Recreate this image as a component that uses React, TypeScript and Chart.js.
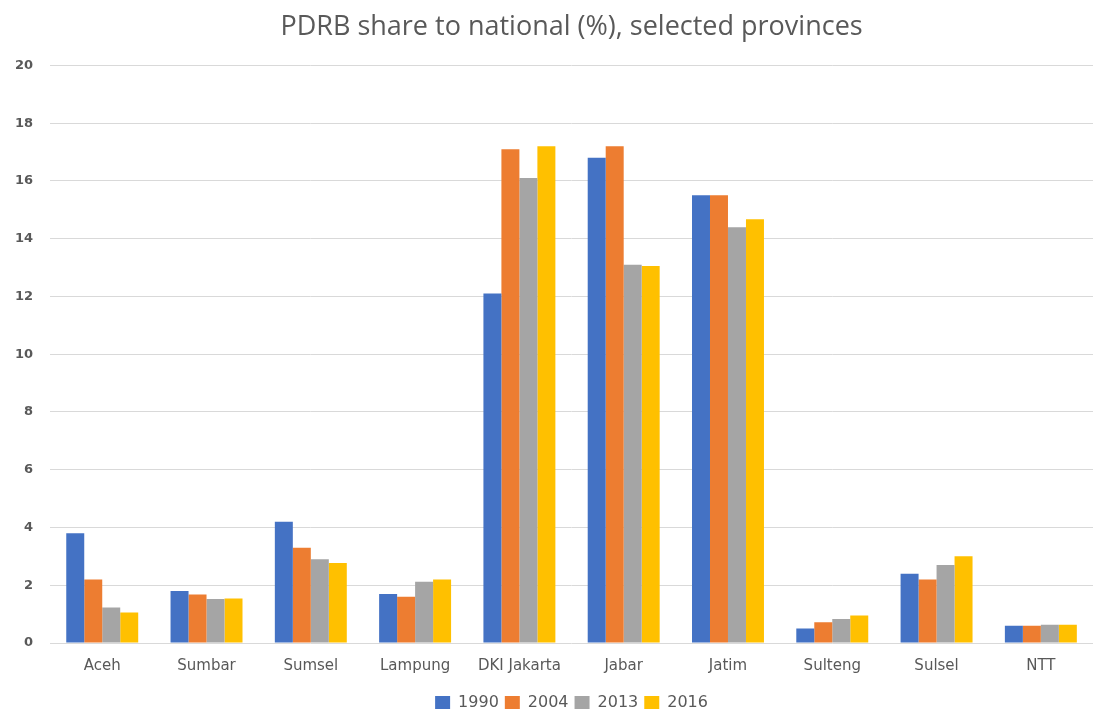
import React, { useEffect, useRef } from "react";
import { Chart, registerables } from "chart.js";

Chart.register(...registerables);

const categories = ["Aceh", "Sumbar", "Sumsel", "Lampung", "DKI Jakarta", "Jabar", "Jatim", "Sulteng", "Sulsel", "NTT"];
const series1990 = [3.8, 1.8, 4.2, 1.7, 12.1, 16.8, 15.5, 0.5, 2.4, 0.6];
const series2004 = [2.2, 1.68, 3.3, 1.6, 17.1, 17.2, 15.5, 0.72, 2.2, 0.6];
const series2013 = [1.23, 1.52, 2.9, 2.12, 16.1, 13.1, 14.4, 0.83, 2.7, 0.63];
const series2016 = [1.06, 1.54, 2.77, 2.2, 17.2, 13.05, 14.67, 0.95, 3.0, 0.63];
const seriesLabels = ["1990", "2004", "2013", "2016"];
const yTicks = [0, 2, 4, 6, 8, 10, 12, 14, 16, 18, 20];

const FONT = "'DejaVu Sans', 'Open Sans', sans-serif";
const TEXT = "#595959";

export default function App() {
  const ref = useRef<HTMLCanvasElement | null>(null);
  useEffect(() => {
    document.body.style.margin = "0";
    const colors = ["#4472C4", "#ED7D31", "#A5A5A5", "#FFC000"];
    const data = [series1990, series2004, series2013, series2016];
    const chart = new Chart(ref.current as HTMLCanvasElement, {
      type: "bar",
      data: {
        labels: categories,
        datasets: seriesLabels.map((l, i) => ({
          label: l,
          data: data[i],
          backgroundColor: colors[i],
          borderWidth: 0,
          categoryPercentage: 0.69,
          barPercentage: 1.0,
        })),
      },
      options: {
        animation: false,
        responsive: false,
        maintainAspectRatio: false,
        layout: { padding: { left: -2, right: 2, top: 0, bottom: -12 } },
        plugins: {
          title: {
            display: true,
            fullSize: false,
            text: "PDRB share to national (%), selected provinces",
            color: TEXT,
            font: { family: "'Open Sans', sans-serif", size: 27, weight: "normal" },
            padding: { top: 11, bottom: 22 },
          },
          legend: {
            position: "bottom",
            fullSize: false,
            labels: {
              color: TEXT,
              font: { family: FONT, size: 16 },
              boxWidth: 15,
              boxHeight: 14,
              padding: 6,
            },
          },
          tooltip: { enabled: false },
        },
        scales: {
          x: {
            grid: { display: false, drawTicks: false },
            border: { display: false },
            ticks: { color: TEXT, font: { family: FONT, size: 15 }, padding: 14 },
          },
          y: {
            min: 0,
            max: 20,
            afterBuildTicks: (axis: any) => {
              axis.ticks = yTicks.map((v) => ({ value: v }));
            },
            grid: { color: "#D9D9D9", lineWidth: 1, drawTicks: false },
            border: { display: false },
            ticks: { color: TEXT, font: { family: FONT, size: 13, weight: "bold" }, padding: 17 },
          },
        },
      },
    });
    return () => chart.destroy();
  }, []);
  return (
    <div style={{ width: 1095, height: 709, background: "#fff" }}>
      <canvas ref={ref} width={1095} height={709} />
    </div>
  );
}
